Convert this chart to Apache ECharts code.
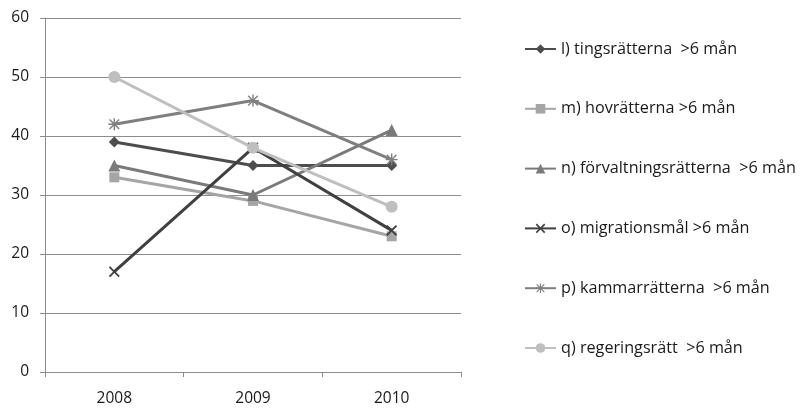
<!DOCTYPE html>
<html>
<head>
<meta charset="utf-8">
<script src="https://cdn.jsdelivr.net/npm/echarts@6/dist/echarts.min.js"></script>
<style>html,body{margin:0;padding:0;background:#fff}#c{width:803px;height:409px}</style>
</head>
<body>
<div id="c"></div>
<script>
const years = ['2008', '2009', '2010'];
const tingsratterna = [39, 35, 35];
const hovratterna = [33, 29, 23];
const forvaltningsratterna = [35, 30, 41];
const migrationsmal = [17, 38, 24];
const kammarratterna = [42, 46, 36];
const regeringsratt = [50, 38, 28];
const yTicks = [0, 10, 20, 30, 40, 50, 60];

const xMark = 'path://M0,1.2L1.2,0L5,3.8L8.8,0L10,1.2L6.2,5L10,8.8L8.8,10L5,6.2L1.2,10L0,8.8L3.8,5Z';
const starMark = 'path://M4.4,0H5.6V3.6L8.6,0.6L9.4,1.4L6.4,4.4H10V5.6H6.4L9.4,8.6L8.6,9.4L5.6,6.4V10H4.4V6.4L1.4,9.4L0.6,8.6L3.6,5.6H0V4.4H3.6L0.6,1.4L1.4,0.6L4.4,3.6Z';

function line(name, data, color, symbol, size) {
  return {
    name, type: 'line', data, symbol, symbolSize: size,
    lineStyle: { color, width: 3 },
    itemStyle: { color },
    emphasis: { disabled: true },
    animation: false
  };
}

const chart = echarts.init(document.getElementById('c'), null, { renderer: 'canvas' });
chart.setOption({
  backgroundColor: '#fff',
  textStyle: { fontFamily: 'Open Sans, sans-serif' },
  grid: { left: 45, right: 342, top: 18, bottom: 37 },
  xAxis: {
    type: 'category', data: years, boundaryGap: true,
    axisLine: { lineStyle: { color: '#8c8c8c', width: 1 } },
    axisTick: { show: true, length: 5, lineStyle: { color: '#8c8c8c' } },
    axisLabel: { color: '#1a1a1a', fontSize: 15.5, margin: 19 }
  },
  yAxis: {
    type: 'value', min: yTicks[0], max: yTicks[yTicks.length - 1], interval: 10,
    axisLine: { show: true, lineStyle: { color: '#8c8c8c', width: 1 } },
    axisTick: { show: true, length: 5, lineStyle: { color: '#8c8c8c' } },
    axisLabel: { color: '#1a1a1a', fontSize: 15.5, margin: 16 },
    splitLine: { lineStyle: { color: '#8c8c8c', width: 1 } }
  },
  legend: {
    orient: 'vertical', left: 519, top: 36,
    itemWidth: 31, itemHeight: 12, itemGap: 43.8,
    textStyle: { color: '#1a1a1a', fontSize: 16.2 },
    selectedMode: false
  },
  series: [
    line('l) tingsrätterna  >6 mån', tingsratterna, '#4d4d4d', 'diamond', 11),
    line('m) hovrätterna >6 mån', hovratterna, '#a5a5a5', 'rect', 10),
    line('n) förvaltningsrätterna  >6 mån', forvaltningsratterna, '#7a7a7a', 'triangle', 12),
    line('o) migrationsmål >6 mån', migrationsmal, '#404040', xMark, 11),
    line('p) kammarrätterna  >6 mån', kammarratterna, '#7f7f7f', starMark, 12),
    line('q) regeringsrätt  >6 mån', regeringsratt, '#bfbfbf', 'circle', 12)
  ]
});
</script>
</body>
</html>
